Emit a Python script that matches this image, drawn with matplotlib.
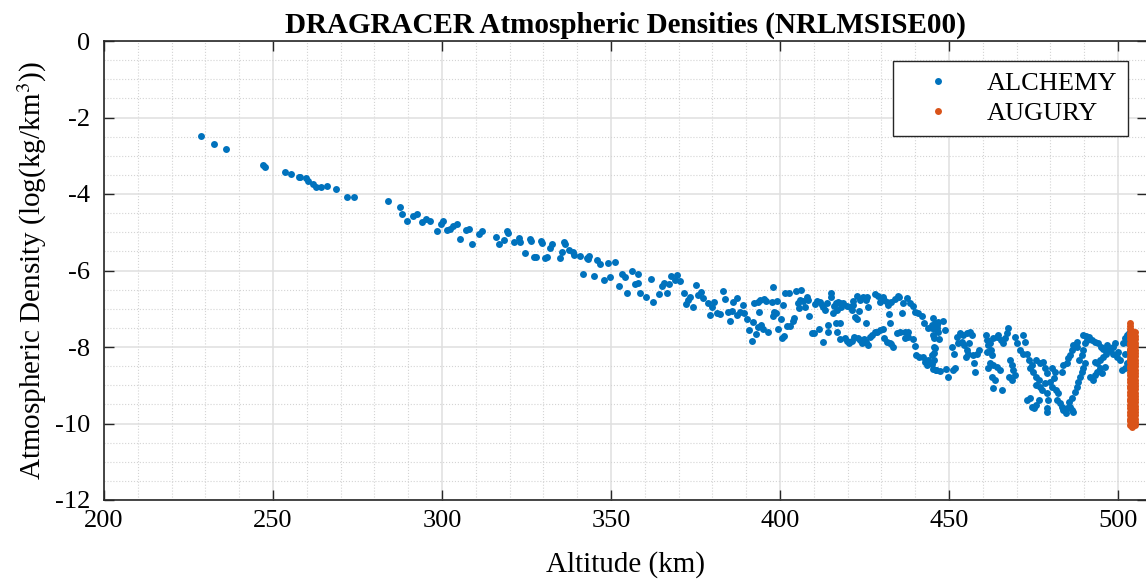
import matplotlib
matplotlib.use('Agg')
import matplotlib.pyplot as plt
from matplotlib.lines import Line2D
from matplotlib.ticker import MultipleLocator

# ALCHEMY densities in altitude chunks
alt_a = [228.6, 232.5, 236.0, 247.0, 247.5, 253.6, 255.3, 257.6, 258.0,
         259.8, 260.5, 261.7, 262.7, 264.3, 265.9, 268.6, 271.9, 274.0]
dens_a = [-2.48, -2.69, -2.82, -3.24, -3.29, -3.42, -3.49, -3.56, -3.56,
          -3.59, -3.66, -3.75, -3.81, -3.82, -3.78, -3.87, -4.07, -4.07]

alt_b = [284.1, 287.6, 288.3, 289.6, 291.5, 292.6, 294.0, 295.4, 296.6, 298.5,
         299.8, 300.4, 301.4, 302.4, 303.4, 304.3, 305.2, 307.1, 308.1, 309.0,
         310.9, 311.9, 316.0, 316.9, 318.4, 319.2, 319.5, 321.4, 322.8, 323.1,
         324.7, 326.0, 326.2, 327.1, 327.7, 329.3, 329.6, 330.4, 331.1, 332.0,
         332.7, 335.0, 335.5, 336.2, 336.5, 337.6, 338.8, 339.1, 340.8]
dens_b = [-4.17, -4.33, -4.51, -4.70, -4.57, -4.52, -4.73, -4.65, -4.70, -4.98,
          -4.79, -4.70, -4.94, -4.92, -4.84, -4.79, -5.18, -4.95, -4.92, -5.31,
          -5.05, -4.98, -5.12, -5.31, -5.20, -4.98, -5.03, -5.26, -5.16, -5.25,
          -5.53, -5.18, -5.24, -5.65, -5.65, -5.23, -5.29, -5.67, -5.64, -5.42,
          -5.32, -5.68, -5.52, -5.25, -5.32, -5.46, -5.51, -5.60, -5.62]

alt_c = [343.0, 343.6, 343.2, 341.8, 345.1, 346.0, 346.7,
         347.9, 349.0, 349.8, 351.2, 352.4, 353.4, 354.1, 354.8,
         356.1, 357.1, 358.1, 358.0, 358.6, 360.5, 361.7, 362.3,
         364.3, 365.0, 365.7, 366.6, 367.2, 367.8, 368.9, 369.6,
         370.4, 371.5, 372.1, 372.8, 373.4, 374.3, 375.1, 375.8,
         376.6, 377.3, 378.6, 379.3, 380.0, 380.6, 381.3, 382.4,
         383.2, 383.8, 384.5, 385.2, 385.7, 386.2, 387.2, 387.4,
         388.2, 389.0, 389.4, 390.3, 390.8, 391.6, 391.9, 392.9,
         392.3, 393.4, 393.6, 393.8]
dens_c = [-5.68, -5.61, -5.71, -6.09, -6.14, -5.73, -5.84,
          -6.25, -5.80, -6.18, -5.79, -6.40, -6.09, -6.18, -6.60,
          -6.00, -6.35, -6.32, -6.10, -6.58, -6.70, -6.21, -6.83,
          -6.61, -6.40, -6.32, -6.59, -6.36, -6.14, -6.25, -6.13,
          -6.27, -6.60, -6.88, -6.77, -6.68, -6.95, -6.38, -6.64,
          -6.55, -6.73, -6.86, -7.16, -6.96, -6.83, -7.10, -7.14,
          -6.54, -6.75, -7.08, -7.32, -7.06, -6.83, -7.16, -6.71,
          -7.08, -6.89, -7.10, -7.28, -7.56, -7.84, -7.34, -7.67,
          -6.86, -7.49, -6.82, -7.08]

alt_d = [394.1, 395.3, 395.9, 397.8, 397.5, 399.0,
         398.2, 398.8, 398.0, 395.0, 396.5, 394.4,
         399.5, 400.5, 401.2, 400.2, 401.0, 401.5,
         402.7, 402.0, 403.1, 403.9, 404.2, 404.7,
         406.2, 405.2, 405.9, 406.7, 405.7, 407.4,
         407.9, 408.4, 408.6, 409.5, 410.0, 410.3,
         411.0, 411.8, 412.3, 411.6, 412.8, 413.3,
         412.6, 413.8, 414.3, 414.1, 415.1, 415.0,
         415.6, 416.0, 416.6, 417.2, 417.8, 416.9,
         418.0, 416.7, 417.9, 417.0, 417.8, 419.2,
         419.9, 420.5, 421.2, 418.7, 419.7, 420.7,
         421.7, 421.3, 422.2, 422.7, 421.5, 422.7,
         423.4, 422.0, 423.0, 423.7, 424.2, 425.0,
         425.6, 426.1, 426.6, 427.3, 423.8, 424.6,
         425.4, 426.1, 425.8, 425.4, 428.1, 429.1,
         430.4, 429.6, 430.8, 431.6, 428.1, 428.8,
         429.6, 430.4, 430.8, 431.8, 432.5, 433.0,
         433.5, 432.5, 432.3, 432.0, 433.0, 434.0,
         434.8, 435.3, 434.5, 435.5, 437.0, 438.0,
         436.0, 436.5, 437.5, 437.0, 438.0, 439.4,
         438.4, 439.4, 439.9, 440.9, 441.9, 442.6,
         439.9, 440.4, 441.2, 442.2, 442.9, 443.4,
         443.9, 444.9, 445.4, 446.1, 445.6, 445.9,
         443.9, 444.9, 445.9, 446.6, 446.8, 445.4, 445.7]
dens_d = [-6.77, -6.75, -6.79, -6.42, -6.83, -6.80,
          -7.08, -7.12, -7.19, -7.54, -7.62, -7.42,
          -7.54, -7.77, -7.71, -7.28, -6.90, -6.60,
          -6.60, -7.45, -7.45, -7.31, -7.23, -6.53,
          -6.50, -6.84, -6.77, -6.80, -6.99, -6.95,
          -6.70, -6.77, -7.19, -7.64, -7.64, -6.88,
          -6.80, -6.82, -6.90, -7.54, -6.96, -7.03,
          -7.86, -6.86, -7.42, -7.62, -6.60, -6.68,
          -7.12, -6.93, -6.84, -6.82, -6.86, -7.03,
          -6.95, -7.36, -7.38, -7.60, -7.80, -7.77,
          -7.84, -7.89, -7.84, -6.86, -6.93, -6.95,
          -6.90, -7.03, -7.21, -7.28, -6.80, -6.66,
          -7.05, -7.73, -7.77, -7.82, -7.89, -7.80,
          -7.86, -7.96, -7.73, -7.69, -6.77, -6.70,
          -6.77, -6.96, -6.68, -7.36, -6.61, -6.67,
          -6.68, -6.83, -6.77, -6.82, -7.62, -7.60,
          -7.55, -7.54, -7.77, -7.86, -7.89, -7.92,
          -7.99, -7.38, -7.14, -6.90, -6.82, -6.75,
          -6.67, -6.68, -7.64, -7.62, -7.60, -7.62,
          -7.12, -6.86, -6.73, -7.77, -7.73, -7.80,
          -6.86, -6.93, -7.08, -7.12, -7.19, -7.38,
          -7.97, -8.21, -8.27, -8.27, -8.38, -8.47,
          -8.34, -8.44, -8.58, -8.60, -8.16, -8.03,
          -7.51, -7.51, -7.54, -7.42, -7.60, -7.25, -7.77]

alt_e = [444.9, 445.9, 446.9, 448.1, 448.8, 446.4,
         445.4, 447.2, 445.6, 444.9, 445.6, 446.2,
         447.4, 449.1, 449.8, 450.8, 451.5, 451.8,
         451.1, 452.3, 453.3, 454.3, 455.2, 456.2,
         456.7, 452.8, 453.8, 454.5, 455.2, 456.0,
         455.1, 455.7, 457.2, 458.2, 459.0, 457.4,
         457.7, 461.0, 461.4, 461.7, 462.2, 461.2,
         462.3, 463.1, 464.1, 464.6, 465.3, 466.1,
         466.6, 467.6, 467.3, 462.6, 462.2, 463.1,
         464.1, 465.1, 461.7, 462.6, 463.6, 462.9,
         465.6, 468.1, 468.6, 469.1, 467.9, 468.6,
         469.5, 469.5, 470.2, 471.0, 471.8, 472.5,
         472.0, 473.0, 473.8, 474.5, 474.0, 475.0,
         475.8, 476.5, 476.9, 477.4, 475.9, 473.0,
         474.0, 474.5, 475.2, 475.8, 476.5, 475.9,
         476.9, 477.9, 478.4, 478.9, 478.4, 478.9,
         479.4, 478.9, 479.1, 480.4, 481.4, 481.1,
         479.9, 480.4, 481.7, 482.4, 481.9, 482.9,
         483.4, 483.8, 484.6, 485.0, 485.8, 486.3,
         486.8, 485.6, 486.3, 483.4, 483.8, 484.8,
         485.3, 485.8, 486.3, 486.8, 487.8, 488.0,
         487.3, 487.8, 488.3, 488.8, 489.3, 489.8,
         490.3, 488.6, 489.3, 489.8, 490.3, 490.8,
         489.8, 490.6, 491.5, 492.2, 493.2, 494.2,
         494.9, 495.7, 493.2, 493.7, 494.7, 495.7,
         496.5, 497.2, 497.7, 498.4, 499.1, 491.7,
         492.5, 493.2, 493.7, 494.7, 495.2, 496.2,
         496.7, 497.7, 498.6, 499.6, 500.1, 500.6,
         501.1, 502.1, 502.6, 501.6, 502.1, 502.6,
         503.4, 503.1, 503.6, 502.1]
dens_e = [-7.42, -7.38, -7.34, -7.32, -7.56, -7.51,
          -7.69, -7.80, -7.99, -8.21, -8.34, -8.60,
          -8.62, -8.58, -8.78, -7.99, -8.17, -8.56,
          -8.60, -7.73, -7.64, -7.69, -7.64, -7.60,
          -7.69, -7.90, -7.86, -7.95, -8.08, -7.90,
          -8.25, -8.17, -8.21, -8.17, -8.08, -8.43,
          -8.65, -7.69, -7.82, -7.95, -7.90, -8.12,
          -8.08, -7.77, -7.73, -7.69, -7.82, -7.90,
          -7.77, -7.51, -7.64, -8.21, -8.43, -8.47,
          -8.51, -8.60, -8.56, -8.79, -8.86, -9.08,
          -9.12, -8.34, -8.47, -8.60, -8.78, -8.86,
          -8.73, -7.73, -7.90, -8.08, -7.69, -7.86,
          -8.17, -8.17, -8.34, -8.47, -8.56, -8.65,
          -8.78, -8.86, -9.04, -9.12, -8.99, -9.39,
          -9.34, -9.56, -9.60, -9.52, -9.39, -8.34,
          -8.43, -8.38, -8.56, -8.69, -8.95, -9.21,
          -9.39, -9.60, -9.69, -8.56, -8.65, -8.82,
          -8.91, -9.04, -9.12, -9.21, -9.39, -9.47,
          -9.56, -9.65, -9.73, -9.60, -9.56, -9.65,
          -9.69, -9.43, -9.34, -8.65, -8.47, -8.43,
          -8.30, -8.21, -8.08, -7.95, -7.86, -7.99,
          -9.17, -9.04, -8.91, -8.78, -8.65, -8.56,
          -8.43, -8.34, -8.21, -8.08, -7.90, -7.82,
          -7.69, -7.71, -7.73, -7.82, -7.86, -7.90,
          -7.99, -8.04, -8.38, -8.43, -8.34, -8.25,
          -8.17, -8.08, -8.04, -7.99, -7.90, -8.78,
          -8.86, -8.73, -8.65, -8.56, -8.69, -8.51,
          -7.95, -8.08, -8.17, -8.25, -8.12, -8.34,
          -8.60, -8.56, -8.43, -7.90, -7.77, -7.69,
          -7.64, -7.90, -8.08, -8.17]

# AUGURY sits in a narrow band just above 500 km
aug_alt_left = 503.6
aug_dens_left = [-7.36, -7.44, -7.53, -7.63, -7.70, -7.79, -7.89, -7.96, -8.06,
                 -8.13, -8.23, -8.31, -8.39, -8.49, -8.56, -8.66, -8.73, -8.84,
                 -8.91, -9.01, -9.08, -9.18, -9.25, -9.35, -9.42, -9.52, -9.60,
                 -9.69, -9.77, -9.87, -9.94, -10.03]
aug_alt_mid = 504.3
aug_dens_mid = [-7.58, -7.67, -7.78, -7.86, -7.95, -8.04, -8.12, -8.21, -8.30,
                -8.38, -8.47, -8.55, -8.64, -8.73, -8.81, -8.90, -8.98, -9.07,
                -9.16, -9.24, -9.33, -9.41, -9.50, -9.58, -9.67, -9.76, -9.84,
                -9.93, -10.02, -10.08]
aug_alt_right = 505.0
aug_dens_right = [-7.62, -7.71, -7.80, -7.89, -7.97, -8.07, -8.15, -8.24, -8.33,
                  -8.41, -8.50, -8.59, -8.67, -8.76, -8.85, -8.93, -9.02, -9.10,
                  -9.19, -9.28, -9.36, -9.45, -9.54, -9.62, -9.71, -9.79, -9.88,
                  -9.97, -10.05]

alchemy_alt = alt_a + alt_b + alt_c + alt_d + alt_e
alchemy_dens = dens_a + dens_b + dens_c + dens_d + dens_e
augury_alt = ([aug_alt_left] * len(aug_dens_left) + [aug_alt_mid] * len(aug_dens_mid)
              + [aug_alt_right] * len(aug_dens_right))
augury_dens = aug_dens_left + aug_dens_mid + aug_dens_right

blue = '#0072BD'
orange = '#D95319'

plt.rcParams['font.family'] = ['Liberation Serif', 'DejaVu Serif']
plt.rcParams['mathtext.fontset'] = 'stix'
plt.rcParams['axes.unicode_minus'] = False

fig = plt.figure(figsize=(11.46, 5.8), dpi=100)
ax = fig.add_axes([104 / 1146, 80 / 580, 1043 / 1146, 459 / 580])

ax.plot(alchemy_alt, alchemy_dens, 'o', color=blue, ms=5.0, mew=0, zorder=3)
ax.plot(augury_alt, augury_dens, 'o', color=orange, ms=5.0, mew=0, zorder=4)

ax.set_xlim(200, 508.6)
ax.set_ylim(-12, 0)
ax.xaxis.set_major_locator(MultipleLocator(50))
ax.xaxis.set_minor_locator(MultipleLocator(10))
ax.yaxis.set_major_locator(MultipleLocator(2))
ax.yaxis.set_minor_locator(MultipleLocator(0.5))

ax.grid(which='major', color='#dfdfdf', lw=1.1, zorder=0)
ax.grid(which='minor', color='#d4d4d4', lw=0.8, ls=':', zorder=0)
ax.set_axisbelow(True)

ax.tick_params(which='major', direction='in', top=True, right=True,
               length=7, width=1.0, color='#262626', labelsize=19, pad=7)
ax.tick_params(which='minor', length=0)
ax.tick_params(axis='y', pad=10)
for sp in ax.spines.values():
    sp.set_color('#262626')
    sp.set_linewidth(1.2)

ax.set_xlabel('Altitude (km)', fontsize=21, labelpad=14)
ax.set_ylabel(r'Atmospheric Density (log(kg/km$^{3}$))', fontsize=21, labelpad=4)
ax.set_title('DRAGRACER Atmospheric Densities (NRLMSISE00)', fontsize=21,
             fontweight='bold', pad=6)

handles = [Line2D([], [], ls='none', marker='o', ms=5.0, mew=0, color=blue),
           Line2D([], [], ls='none', marker='o', ms=5.0, mew=0, color=orange)]
leg = ax.legend(handles, ['ALCHEMY', 'AUGURY'], loc='upper right',
                bbox_to_anchor=(0.9818, 0.9564), borderaxespad=0, fontsize=19,
                frameon=True, fancybox=False, framealpha=1, edgecolor='#262626',
                borderpad=0.4, labelspacing=0.25, handlelength=2.6, handletextpad=0.55)
leg.get_frame().set_linewidth(1.0)

fig.savefig('out.png', dpi=100)
